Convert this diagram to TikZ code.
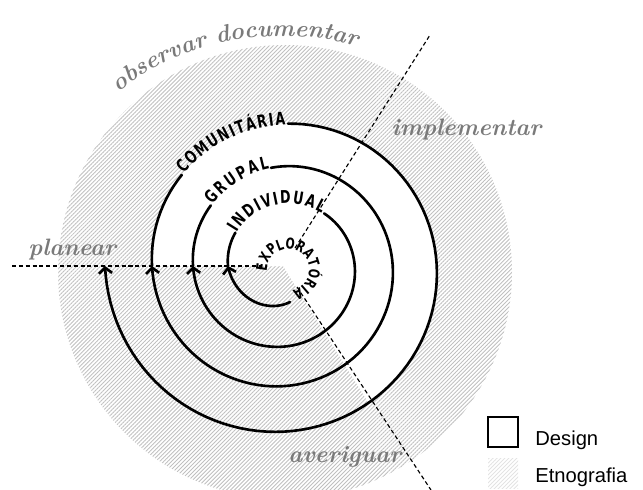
\documentclass[tikz,border=0pt]{standalone}
\usepackage{fontspec}
\usetikzlibrary{patterns.meta,decorations.text,arrows.meta}
\newfontfamily\labfont{DejaVu Sans}[FakeStretch=0.72]
\newfontfamily\legfont{Liberation Sans}
\definecolor{handgray}{RGB}{122,122,122}
\definecolor{hatchgray}{RGB}{192,192,192}

\begin{document}
\begin{tikzpicture}[x=0.02cm,y=-0.02cm,
  declare function={
    spr(\p)=55+32*((\p-360)/360)+3*((\p-360)/360)^2;
    inr(\p)=36.7+0.181*(\p-259);
  },
  spiral/.style={line width=1.5pt, black, line cap=round},
  tipped/.style={-{Straight Barb[length=3.2pt,width=7.5pt]}},
  guide/.style={dash pattern=on 2.3pt off 1.6pt, line width=0.65pt, black},
  hand/.style={font=\fontsize{13.5}{15}\selectfont\bfseries\itshape, text=handgray, inner sep=0pt},
  legend/.style={font=\legfont\fontsize{11.5}{12}\selectfont, inner sep=0pt, anchor=base west},
  hatch/.style={pattern={Lines[angle=45,distance=1.6pt,line width=0.5pt]}, pattern color=hatchgray},
]
\useasboundingbox (0,0) rectangle (643,490);

\coordinate (O) at (283,266);

% Etnografia: hatched disk
\begin{scope}
  \clip (0,0) rectangle (643,490);
  \fill[hatch] (285,272) circle[radius=227];
\end{scope}

% Design: white sector enclosed by the outer turn
\fill[white] (O) -- plot[domain=1080:1318, samples=90, variable=\t]
  ({283-spr(\t)*cos(\t)},{266-spr(\t)*sin(\t)}) -- cycle;

% dashed guide lines
\coordinate (plA) at (12,266);  \coordinate (plB) at (262,266);
\coordinate (imA) at (295,248); \coordinate (imB) at (430,35);
\coordinate (avA) at (297,287); \coordinate (avB) at (431,490);
\draw[guide] (plA) -- (plB);
\draw[guide] (imA) -- (imB);
\draw[guide] (avA) -- (avB);

% the spiral, turn by turn
\draw[spiral,tipped] plot[domain=259:360, samples=40, variable=\t]
  ({283-inr(\t)*cos(\t)},{266-inr(\t)*sin(\t)});
\draw[spiral] plot[domain=360:395, samples=15, variable=\t]
  ({283-spr(\t)*cos(\t)},{266-spr(\t)*sin(\t)});
\draw[spiral,tipped] plot[domain=488:720, samples=80, variable=\t]
  ({283-spr(\t)*cos(\t)},{266-spr(\t)*sin(\t)});
\draw[spiral] plot[domain=720:760, samples=15, variable=\t]
  ({283-spr(\t)*cos(\t)},{266-spr(\t)*sin(\t)});
\draw[spiral,tipped] plot[domain=803:1080, samples=90, variable=\t]
  ({283-spr(\t)*cos(\t)},{266-spr(\t)*sin(\t)});
\draw[spiral] plot[domain=1080:1122, samples=15, variable=\t]
  ({283-spr(\t)*cos(\t)},{266-spr(\t)*sin(\t)});
\draw[spiral,tipped] plot[domain=1172:1440, samples=90, variable=\t]
  ({283-spr(\t)*cos(\t)},{266-spr(\t)*sin(\t)});

% labels written along the spiral
\path[decorate, decoration={text along path, raise=-0.5pt,
    text={|\labfont\bfseries\fontsize{8.5}{8.5}\selectfont|EXPLORATÓRIA}, text align={fit to path}}]
  plot[domain=-3:258, samples=60, variable=\t] ({288-22*cos(\t)},{270-22*sin(\t)});
\path[decorate, decoration={text along path, raise=-0.5pt,
    text={|\labfont\bfseries\fontsize{10}{10}\selectfont|INDIVIDUAL}, text align={fit to path}}]
  plot[domain=396:486, samples=40, variable=\t] ({283-spr(\t)*cos(\t)},{266-spr(\t)*sin(\t)});
\path[decorate, decoration={text along path, raise=-0.5pt,
    text={|\labfont\bfseries\fontsize{10}{10}\selectfont|GRUPAL}, text align={fit to path}}]
  plot[domain=761:802, samples=30, variable=\t] ({283-spr(\t)*cos(\t)},{266-spr(\t)*sin(\t)});
\path[decorate, decoration={text along path, raise=-0.5pt,
    text={|\labfont\bfseries\fontsize{10}{10}\selectfont|COMUNITÁRIA}, text align={fit to path}}]
  plot[domain=1123:1171, samples=30, variable=\t] ({283-spr(\t)*cos(\t)},{266-spr(\t)*sin(\t)});

% handwritten phase names
\path[decorate, decoration={text along path,
    text={|\color{handgray}\bfseries\itshape\fontsize{13.5}{15}\selectfont|observar documentar}, text align=center}]
  plot[domain=46:110, samples=60, variable=\t] ({283-252*cos(\t)},{266-230*sin(\t)});
\node[hand, anchor=base west] (implementar) at (391,135) {implementar};
\node[hand, anchor=base west] (planear) at (28,255) {planear};
\node[hand, anchor=base west] (averiguar) at (288,462) {averiguar};

% legend
\node[draw, line width=0.8pt, minimum width=0.6cm, minimum height=0.6cm, inner sep=0pt] (designbox) at (503,432) {};
\node[pattern={Lines[angle=45,distance=1.6pt,line width=0.5pt]}, pattern color=gray!22,
      minimum width=0.6cm, minimum height=0.6cm, inner sep=0pt] (etnobox) at (503,473) {};
\node[legend] (designtxt) at (535,445) {Design};
\node[legend] (etnotxt) at (535,482) {Etnografia};
\end{tikzpicture}
\end{document}
